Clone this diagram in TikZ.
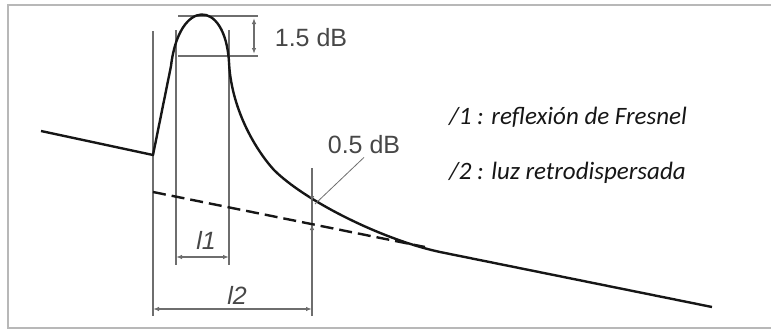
\documentclass[tikz,border=0pt]{standalone}
\usepackage{fontspec}
\setmainfont{Liberation Sans}
\newfontfamily\legendfont{Carlito}
\usetikzlibrary{arrows.meta}
\definecolor{frame-gray}{HTML}{B8B8B8}
\definecolor{guide-gray}{HTML}{6E6E6E}
\definecolor{trace}{HTML}{161616}
\definecolor{label-gray}{HTML}{474747}

\begin{document}
\begin{tikzpicture}[x=1pt, y=-1pt,
    every node/.style={font=\fontsize{25}{28}\selectfont, text=label-gray, inner sep=0pt},
    guide/.style={draw=guide-gray, line width=1.6pt},
    dim/.style={guide, {Latex[length=6pt,width=4.5pt]}-{Latex[length=6pt,width=4.5pt]}},
    tip/.style={guide, -{Latex[length=6pt,width=4.5pt]}},
    trace line/.style={draw=trace, line width=2.4pt, line join=round}]
    \useasboundingbox (0,0) rectangle (771,330);
    \draw[frame-gray, line width=2pt] (780,5) -- (8,5) -- (8,328) -- (780,328);

    % event markers
    \coordinate (m0t) at (153,31);  \coordinate (m0b) at (153,316);
    \coordinate (m1t) at (176,30);  \coordinate (m1b) at (176,265);
    \coordinate (m2t) at (229,30);  \coordinate (m2b) at (229,265);
    \coordinate (m3t) at (312,168); \coordinate (m3b) at (312,316);
    \draw[guide] (m0t) -- (m0b);
    \draw[guide] (m1t) -- (m1b);
    \draw[guide] (m2t) -- (m2b);
    \draw[guide] (m3t) -- (m3b);
    \draw[guide] (178,16) -- (258,16);
    \draw[guide] (178,56) -- (258,56);

    % trace
    \draw[trace line] (41,131) -- (153,155) -- (171,66)
      .. controls (179,-2) and (225,-2) .. (229,62)
      .. controls (231,107) and (254,148) .. (274,170)
      .. controls (304,200) and (380,239) .. (440,252)
      -- (712,307);
    \draw[trace line, dash pattern=on 13pt off 6pt] (153,192) -- (425,247);

    % dimensions
    \coordinate (pk1) at (254,18);  \coordinate (pk2) at (254,54);
    \coordinate (d1a) at (176,257); \coordinate (d1b) at (229,257);
    \coordinate (d2a) at (153,309); \coordinate (d2b) at (312,309);
    \coordinate (hit) at (312,202); \coordinate (base) at (312,224);
    \draw[dim] (pk1) -- (pk2);
    \draw[dim] (d1a) -- (d1b);
    \draw[dim] (d2a) -- (d2b);
    \draw[tip] (m3t) -- (hit);
    \draw[tip] (m3b) -- (base);

    \node (db15) at (311,38) {1.5 dB};
    \node (db05) at (364,145) {0.5 dB};
    \node (l1) at (206,240) {\itshape l1};
    \node (l2) at (237,295) {\itshape l2};
    \draw[guide, line width=0.8pt] (315,204) -- ([yshift=-3pt]db05.south);

    \node[anchor=west, font=\legendfont\itshape\fontsize{25}{28}\selectfont,
      text=trace] (fres) at (449,117) {/1 : reflexión de Fresnel};
    \node[anchor=west, font=\legendfont\itshape\fontsize{25}{28}\selectfont,
      text=trace] (retro) at (449,173) {/2 : luz retrodispersada};
\end{tikzpicture}
\end{document}
